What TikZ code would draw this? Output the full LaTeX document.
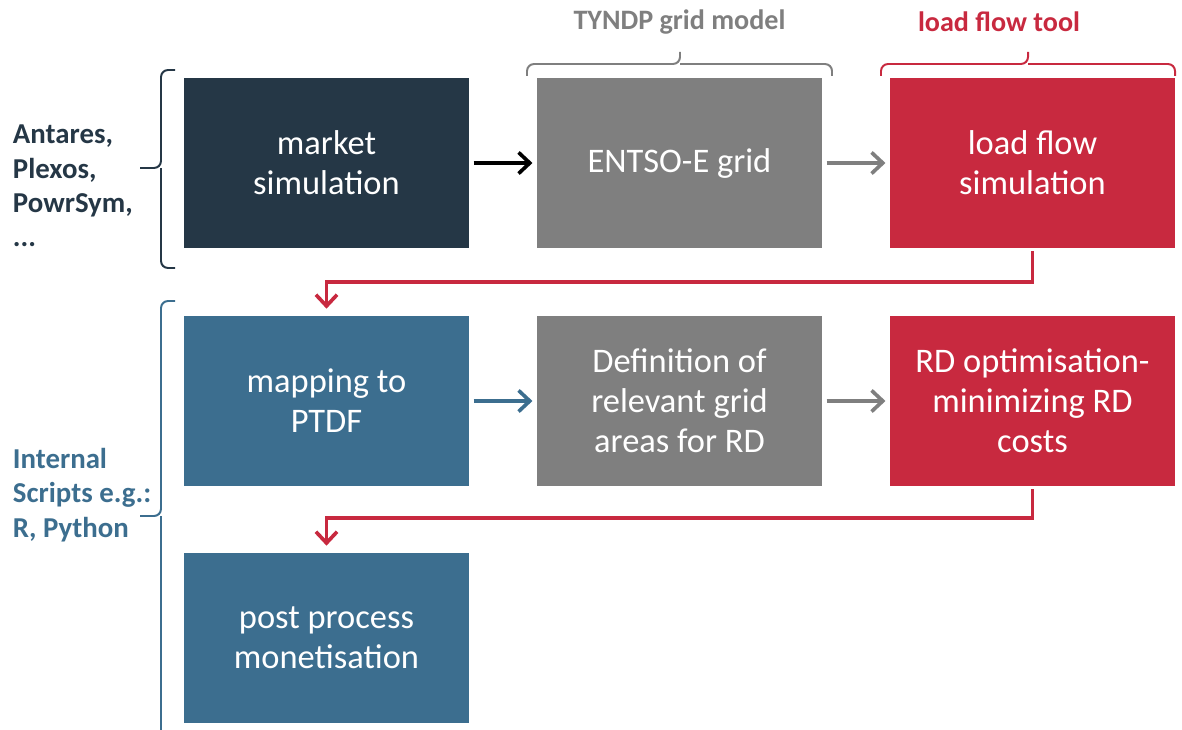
\documentclass[tikz,border=0pt]{standalone}
\usepackage{fontspec}
\setmainfont{Carlito}
\usetikzlibrary{arrows.meta}
\definecolor{navy}{HTML}{253746}
\definecolor{steel}{HTML}{3C6E8F}
\definecolor{greybox}{HTML}{7F7F7F}
\definecolor{redbox}{HTML}{C8293F}
\tikzset{
  block/.style={fill=#1, minimum width=7.125cm, minimum height=4.25cm, inner sep=0pt,
    text=white, align=center, font=\fontsize{24.5}{28.5}\selectfont},
  flow/.style={draw=#1, line width=2.6pt, -{Straight Barb[length=8pt,width=15pt,line width=2.6pt]}},
  side/.style={anchor=west, align=left, font=\fontsize{20.5}{24.5}\selectfont\bfseries},
  curly/.style={draw=#1, line width=1.4pt, rounded corners=5pt},
}
\begin{document}
\begin{tikzpicture}[x=0.025cm, y=-0.025cm]
\useasboundingbox (0,0) rectangle (1182,729);
\clip (0,0) rectangle (1182,729);

\node [block=navy] (market) at (326.5,163) {market\\simulation};
\node [block=greybox] (entsoe) at (679.5,163) {ENTSO-E grid};
\node [block=redbox] (loadflow) at (1032.5,163) {load flow\\simulation};
\node [block=steel] (ptdf) at (326.5,401) {mapping to\\PTDF};
\node [block=greybox] (areas) at (679.5,401) {Definition of\\relevant grid\\areas for RD};
\node [block=redbox] (rdopt) at (1032.5,401) {RD optimisation-\\minimizing RD\\costs};
\node [block=steel] (monet) at (326.5,638) {post process\\monetisation};

\draw [flow=black, shorten <=3pt, shorten >=3pt] (market) -- (entsoe);
\draw [flow=greybox, shorten <=3pt, shorten >=3pt] (entsoe) -- (loadflow);
\draw [flow=steel, shorten <=3pt, shorten >=3pt] (ptdf) -- (areas);
\draw [flow=greybox, shorten <=3pt, shorten >=3pt] (areas) -- (rdopt);
\draw [flow=redbox, shorten <=2pt, shorten >=5pt] (loadflow.south) -- ++(0,34) -| (ptdf.north);
\draw [flow=redbox, shorten <=2pt, shorten >=5pt] (rdopt.south) -- ++(0,32) -| (monet.north);

\node [side, text=navy] (tools) at (8,186) {Antares,\\Plexos,\\PowrSym,\\...};
\node [side, text=steel] (scripts) at (8,495) {Internal\\Scripts e.g.:\\R, Python};
\node [font=\fontsize{20}{24}\selectfont\bfseries, text=greybox] (tyndp) at (679.5,22) {TYNDP grid model};
\node [font=\fontsize{20}{24}\selectfont\bfseries, text=redbox] (lftool) at (999,22) {load flow tool};

\draw [curly=navy] (175,70) -| (161,168) -- (140,168);
\draw [curly=navy] (161,168) |- (175,268);
\draw [curly=steel] (175,301) -| (161,516) -- (140,516);
\draw [curly=steel] (161,516) -- (161,740);
\draw [curly=greybox] (527,76) |- (680,64) -- (680,52);
\draw [curly=greybox] (680,64) -| (832,76);
\draw [curly=redbox] (881,76) |- (1028,64) -- (1028,52);
\draw [curly=redbox] (1028,64) -| (1175,76);
\end{tikzpicture}
\end{document}
